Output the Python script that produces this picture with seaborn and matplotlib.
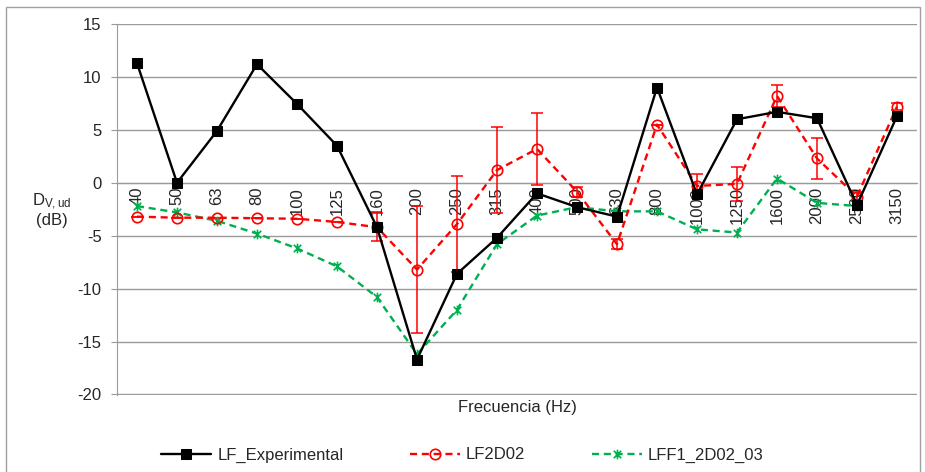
import numpy as np
import pandas as pd
import matplotlib
matplotlib.use("Agg")
import matplotlib.pyplot as plt
import seaborn as sns
from matplotlib.path import Path
from matplotlib.patches import Rectangle
from matplotlib.ticker import FixedLocator

# data
freqs = ["40", "50", "63", "80", "100", "125", "160", "200", "250", "315",
         "400", "500", "630", "800", "1000", "1250", "1600", "2000", "2500", "3150"]
lf_experimental = [11.3, 0.0, 4.9, 11.2, 7.45, 3.5, -4.2, -16.7, -8.6, -5.2,
                   -1.0, -2.3, -3.2, 9.0, -1.1, 6.0, 6.7, 6.1, -2.1, 6.3]
lf2d02 = [-3.2, -3.3, -3.3, -3.35, -3.4, -3.7, -4.2, -8.2, -3.9, 1.2,
          3.2, -0.85, -5.8, 5.5, -0.3, -0.1, 8.2, 2.3, -1.3, 7.2]
lf2d02_err = [0, 0, 0, 0, 0, 0, 1.3, 6.0, 4.5, 4.1,
              3.4, 0.45, 0.45, 0, 1.1, 1.6, 1.0, 1.95, 0.4, 0.3]
lff1_2d02_03 = [-2.2, -2.8, -3.6, -4.8, -6.2, -7.9, -10.8, -16.2, -12.0, -5.8,
                -3.1, -2.3, -2.7, -2.7, -4.4, -4.7, 0.4, -1.9, -2.2, np.nan]

df = pd.DataFrame({"freq": freqs, "LF_Experimental": lf_experimental,
                   "LF2D02": lf2d02, "LFF1_2D02_03": lff1_2d02_03})

sns.set_style("white")
plt.rcParams['font.family'] = ['Liberation Sans', 'DejaVu Sans']
plt.rcParams['mathtext.fontset'] = 'custom'
plt.rcParams['mathtext.rm'] = 'Liberation Sans'
plt.rcParams['mathtext.it'] = 'Liberation Sans'
plt.rcParams['axes.unicode_minus'] = False

grey = "#9a9a9a"
red = "#ff0000"
green = "#00b050"
fs = 12

# Excel style star marker (x with a vertical bar)
star = Path([(-1, -1), (1, 1), (-1, 1), (1, -1), (0, -1.3), (0, 1.3)],
            [Path.MOVETO, Path.LINETO, Path.MOVETO, Path.LINETO, Path.MOVETO, Path.LINETO])

fig = plt.figure(figsize=(9.25, 4.72), dpi=100)
ax = fig.add_axes([117/925, 1-395/472, 800/925, 371/472])

sns.lineplot(data=df, x="freq", y="LF_Experimental", ax=ax, sort=False,
             color="black", lw=1.7, marker="s", ms=7.5, mec="black",
             label="LF_Experimental", zorder=5)
sns.lineplot(data=df, x="freq", y="LF2D02", ax=ax, sort=False,
             color=red, lw=1.7, ls=(0, (3, 2)), marker="o", ms=7.5,
             mfc="none", mec=red, mew=1.2, label="LF2D02", zorder=4)
ax.errorbar(df["freq"], df["LF2D02"], yerr=lf2d02_err, fmt="none",
            ecolor=red, elinewidth=1.1, capsize=4, capthick=1.1, zorder=3)
sns.lineplot(data=df, x="freq", y="LFF1_2D02_03", ax=ax, sort=False,
             color=green, lw=1.7, ls=(0, (3, 2)), marker=star, ms=7,
             mec=green, mew=1.2, label="LFF1_2D02_03", zorder=3)

ax.set_xlim(-0.5, len(freqs) - 0.5)
ax.set_ylim(-20.05, 15)
ax.set_yticks(np.arange(-20, 16, 5))
ax.grid(axis="y", color=grey, lw=1)
ax.grid(axis="x", visible=False)

for s in ["top", "right"]:
    ax.spines[s].set_visible(False)
ax.spines["left"].set_color(grey)
ax.spines["bottom"].set_color(grey)
ax.spines["bottom"].set_position(("data", 0))

# category boundaries get the small tick marks, labels sit at the centres
ax.xaxis.set_minor_locator(FixedLocator(np.arange(-0.5, len(freqs), 1)))
ax.tick_params(axis="x", which="major", length=0, pad=3, labelsize=fs,
               labelrotation=90)
ax.tick_params(axis="x", which="minor", length=5, color=grey, direction="out")
ax.tick_params(axis="y", length=4, color=grey, pad=7, labelsize=fs, left=True)
ax.set_xlabel("")
ax.set_ylabel("")

ax.text(0.5, -0.035, "Frecuencia (Hz)", transform=ax.transAxes,
        ha="center", va="center", fontsize=fs)
fig.text(52/925, 1-210/472, "D$_{\\rm V,ud}$\n(dB)", ha="center", va="center",
         fontsize=fs, linespacing=1.1)

ax.get_legend().remove()
handles, labels = ax.get_legend_handles_labels()
fig.legend(handles, labels, loc="center", bbox_to_anchor=(0.5, 1-455/472),
           ncol=3, frameon=False, fontsize=fs, handlelength=3,
           columnspacing=4, handletextpad=0.35)

fig.patches.append(Rectangle((6/925, -0.02), 914/925, 1.02-7/472,
                             transform=fig.transFigure, fill=False,
                             ec="#a0a0a0", lw=1))

fig.savefig("out.png", dpi=100)
